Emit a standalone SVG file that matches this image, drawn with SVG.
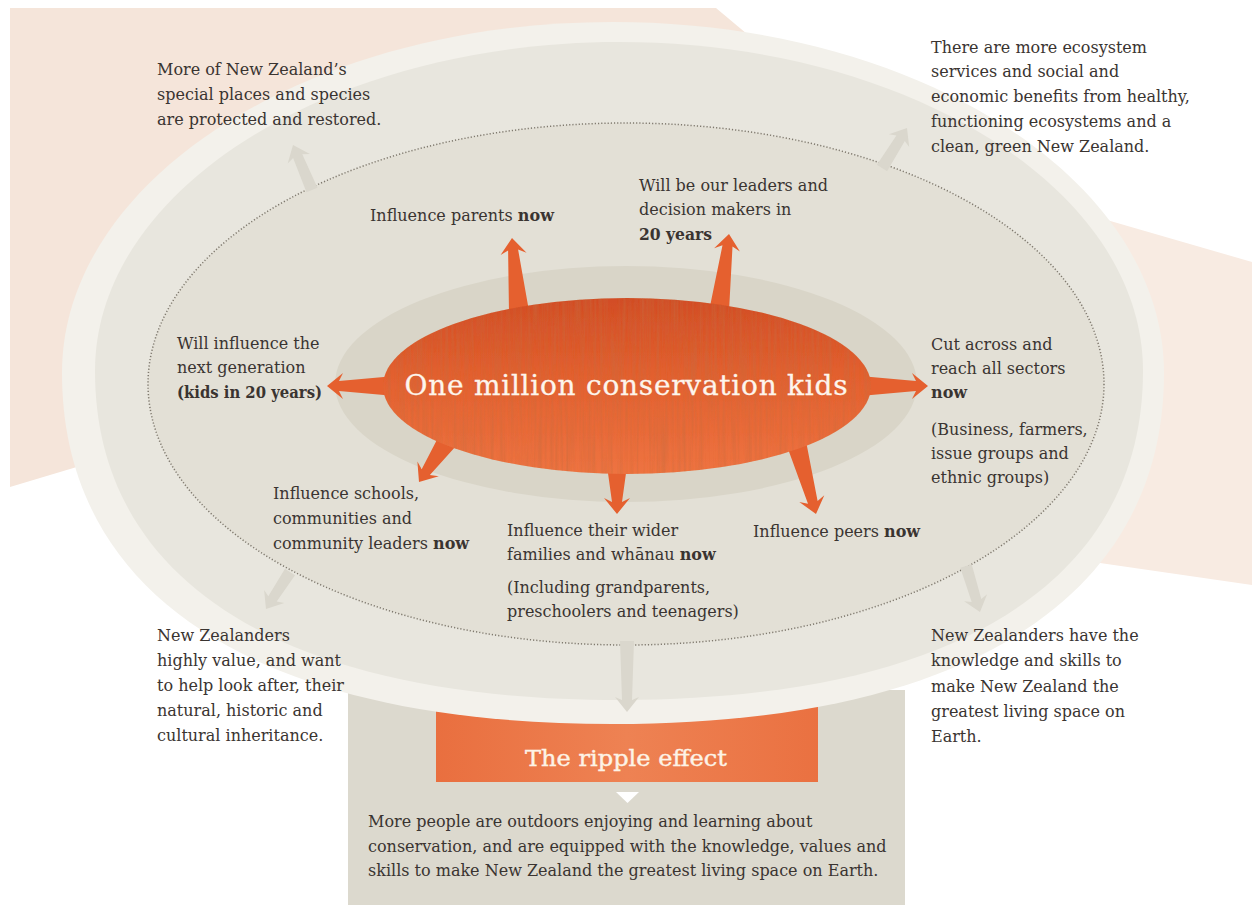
<svg xmlns="http://www.w3.org/2000/svg" width="1252" height="905" viewBox="0 0 1252 905">
<defs>
<style>
.t{font-family:"DejaVu Serif","Liberation Serif",serif;font-size:16px;fill:#3a3431}
.b{font-weight:bold}
.oa{fill:#e5602f}
.ga{fill:#dad7cd}
</style>
<linearGradient id="og" x1="0" y1="0" x2="0" y2="1">
<stop offset="0" stop-color="#d24d26"/>
<stop offset="0.45" stop-color="#e3602f"/>
<stop offset="1" stop-color="#ee7341"/>
</linearGradient>
<linearGradient id="bg" x1="0" y1="0" x2="1" y2="0">
<stop offset="0" stop-color="#e96f3f"/>
<stop offset="0.5" stop-color="#ee8253"/>
<stop offset="1" stop-color="#ea7141"/>
</linearGradient>
<filter id="wc" x="0" y="0" width="100%" height="100%">
<feTurbulence type="fractalNoise" baseFrequency="0.35 0.012" numOctaves="2" seed="3" result="n"/>
<feColorMatrix in="n" type="matrix" values="0 0 0 0 0.55  0 0 0 0 0.15  0 0 0 0 0.05  0 0 0 0.9 -0.32" result="s"/>
<feComposite in="s" in2="SourceGraphic" operator="in" result="sc"/>
<feMerge><feMergeNode in="SourceGraphic"/><feMergeNode in="sc"/></feMerge>
</filter>
</defs>

<g id="background">
<rect x="0" y="0" width="1252" height="905" fill="#ffffff"/>
<polygon points="10,8 716,8 790,70 400,370 10,487" fill="#f5e5da"/>
<polygon points="1100,218 1252,262 1252,585 1100,563" fill="#f8ebe2"/>
<rect x="348" y="690" width="557" height="215" fill="#dcd9ce"/>
</g>

<g id="ripple-banner">
<rect x="436" y="680" width="382" height="102" fill="url(#bg)"/>
</g>

<g id="rings">
<path d="M62 373 C62 179.1 308.7 22 613 22 C917.3 22 1164 179.1 1164 373 C1164 597.6 965.6 724 613 724 C260.4 724 62 597.6 62 373 Z" fill="#f3f1eb"/>
<path d="M95 371 C95 189.3 329.6 42 619 42 C908.4 42 1143 189.3 1143 371 C1143 581.6 954.4 700 619 700 C283.6 700 95 581.6 95 371 Z" fill="#e8e6de"/>
<ellipse cx="626" cy="384" rx="478" ry="261" fill="#e3e0d6" stroke="#7f796e" stroke-width="1.5" stroke-dasharray="1.2 2"/>
<ellipse cx="626" cy="384" rx="291" ry="118" fill="#d9d5c8"/>
</g>

<g id="connectors">
<polygon class="oa" points="529,311 518.1,249.5 526.5,252.7 512,238 500.6,255.1 508.1,250.5 509,312.9"/>
<polygon class="oa" points="728.9,313.2 732.5,246.5 739.9,251.5 729,234 714.1,248.3 722.5,245.3 709.1,310.8"/>
<polygon class="oa" points="395,376 339,381 343,373 327,386 343,399 339,391 395,396"/>
<polygon class="oa" points="860,396 916,391 912,399 928,386 912,373 916,381 860,376"/>
<polygon class="oa" points="439.8,434.3 421.7,469.3 417.4,461.4 419,482 438.8,476.2 429.9,474.9 456.2,445.7"/>
<polygon class="oa" points="607,466 612,502 604,498 617,514 630,498 622,502 627,466"/>
<polygon class="oa" points="786.4,444.6 808,503.7 799.3,502 816,514 824.3,495.2 817.6,501.1 805.7,439.4"/>

<polygon class="ga" points="317.5,187.7 302.3,154.2 309.9,154.1 293,145 287.7,163.5 293.1,158 306.5,192.3"/>
<polygon class="ga" points="887.1,171.2 904.8,140.9 909.2,147.1 907,128 888.9,134.3 896.4,135.6 876.9,164.8"/>
<polygon class="ga" points="285,568.7 268.3,596.2 264.1,589.9 266,609 284.3,602.9 276.7,601.6 295,575.3"/>
<polygon class="ga" points="960.3,567.7 971.7,602 964.1,601.2 980,612 987.1,594.2 981.3,599.1 971.7,564.3"/>
<polygon class="ga" points="620,641 622,700 615,697 627,712 639,697 632,700 634,641"/>
</g>

<g id="center-node">
<ellipse cx="627" cy="386" rx="244" ry="88" fill="url(#og)" filter="url(#wc)"/>
<text x="626" y="395" text-anchor="middle" textLength="443" lengthAdjust="spacing" style="font-family:'DejaVu Serif','Liberation Serif',serif;font-size:28px;fill:#fdf5ec;stroke:#fdf5ec;stroke-width:0.3">One million conservation kids</text>
</g>

<g id="node-parents">
<text class="t" x="370" y="221">Influence parents <tspan class="b">now</tspan></text>
</g>
<g id="node-leaders">
<text class="t" x="639" y="191">Will be our leaders and</text>
<text class="t" x="639" y="215">decision makers in</text>
<text class="t b" x="639" y="240" textLength="73" lengthAdjust="spacingAndGlyphs">20 years</text>
</g>
<g id="node-next-generation">
<text class="t" x="177" y="349">Will influence the</text>
<text class="t" x="177" y="373">next generation</text>
<text class="t b" x="177" y="398" textLength="145" lengthAdjust="spacingAndGlyphs">(kids in 20 years)</text>
</g>
<g id="node-sectors">
<text class="t" x="931" y="350">Cut across and</text>
<text class="t" x="931" y="374">reach all sectors</text>
<text class="t b" x="931" y="398">now</text>
<text class="t" x="931" y="435">(Business, farmers,</text>
<text class="t" x="931" y="459">issue groups and</text>
<text class="t" x="931" y="483">ethnic groups)</text>
</g>
<g id="node-schools">
<text class="t" x="273" y="499">Influence schools,</text>
<text class="t" x="273" y="524">communities and</text>
<text class="t" x="273" y="549">community leaders <tspan class="b">now</tspan></text>
</g>
<g id="node-families">
<text class="t" x="507" y="536">Influence their wider</text>
<text class="t" x="507" y="560">families and whānau <tspan class="b">now</tspan></text>
<text class="t" x="507" y="593">(Including grandparents,</text>
<text class="t" x="507" y="617">preschoolers and teenagers)</text>
</g>
<g id="node-peers">
<text class="t" x="753" y="537">Influence peers <tspan class="b">now</tspan></text>
</g>

<g id="outcome-places">
<text class="t" x="157" y="75">More of New Zealand’s</text>
<text class="t" x="157" y="100">special places and species</text>
<text class="t" x="157" y="125">are protected and restored.</text>
</g>
<g id="outcome-ecosystems">
<text class="t" x="931" y="53">There are more ecosystem</text>
<text class="t" x="931" y="77">services and social and</text>
<text class="t" x="931" y="102">economic benefits from healthy,</text>
<text class="t" x="931" y="127">functioning ecosystems and a</text>
<text class="t" x="931" y="152">clean, green New Zealand.</text>
</g>
<g id="outcome-value">
<text class="t" x="157" y="641">New Zealanders</text>
<text class="t" x="157" y="666">highly value, and want</text>
<text class="t" x="157" y="691">to help look after, their</text>
<text class="t" x="157" y="716">natural, historic and</text>
<text class="t" x="157" y="741">cultural inheritance.</text>
</g>
<g id="outcome-skills">
<text class="t" x="931" y="641">New Zealanders have the</text>
<text class="t" x="931" y="666">knowledge and skills to</text>
<text class="t" x="931" y="692">make New Zealand the</text>
<text class="t" x="931" y="717">greatest living space on</text>
<text class="t" x="931" y="742">Earth.</text>
</g>

<g id="ripple-effect">
<text x="626" y="766" text-anchor="middle" textLength="202" lengthAdjust="spacingAndGlyphs" style="font-family:'DejaVu Serif','Liberation Serif',serif;font-size:23px;fill:#fdf3e6;stroke:#fdf3e6;stroke-width:0.4">The ripple effect</text>
<polygon points="616,792 639,792 627.5,803" fill="#ffffff"/>
<text class="t" x="368" y="827">More people are outdoors enjoying and learning about</text>
<text class="t" x="368" y="852">conservation, and are equipped with the knowledge, values and</text>
<text class="t" x="368" y="876">skills to make New Zealand the greatest living space on Earth.</text>
</g>
</svg>
